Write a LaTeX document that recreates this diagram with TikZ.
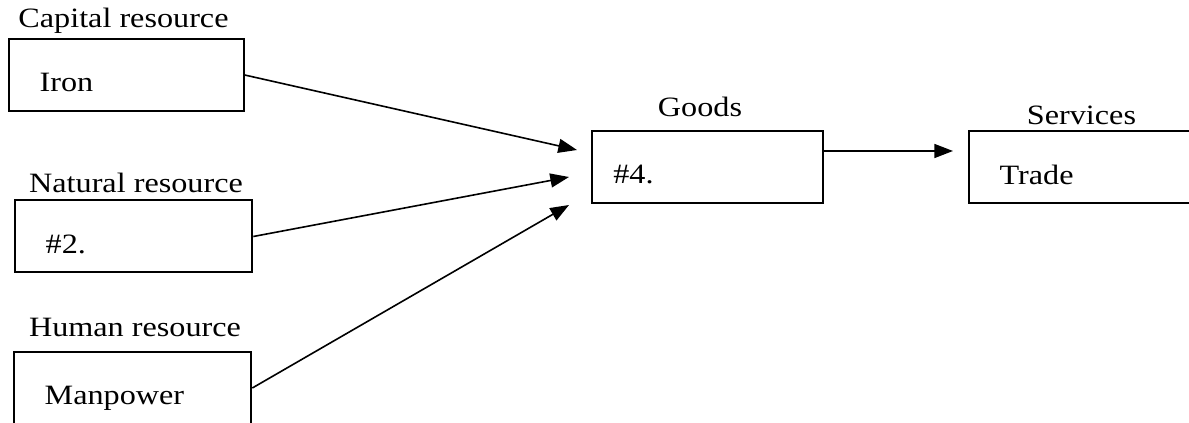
\documentclass[tikz,border=0pt]{standalone}
\usepackage{fontspec}
\setmainfont{Liberation Serif}[FakeStretch=1.15]
\usetikzlibrary{arrows.meta}
\tikzstyle{resbox}=[draw, line width=1.5pt, minimum height=54pt, inner xsep=23pt,
    text height=27pt, text depth=1.5pt, anchor=west, align=left]
\tikzstyle{heading}=[anchor=base, inner sep=0pt]
\newcommand{\resbox}{\node[resbox]}
\newcommand{\heading}{\node[heading]}

\begin{document}
\begin{tikzpicture}[x=0.75pt, y=-0.75pt
    ,font=\fontsize{21}{25}\selectfont
    ,every edge/.style={draw, line width=1.2pt,
        -{Triangle[length=14pt,width=10.5pt]}}
]
\clip (0,0) rectangle (1189,423);
\resbox[text width=130pt] (iron) at (8,75) {Iron};
\resbox[text width=132pt] (nat)  at (14,236.5) {\#2.};
\resbox[text width=132pt] (man)  at (13,388) {Manpower};
\resbox[text width=141pt, inner xsep=16pt] (goods) at (591,167) {\#4.};
\resbox[text width=130pt] (trade) at (968,167.5) {Trade};
\heading (capital)  at (123.5,28)  {Capital resource};
\heading (natural)  at (136,193)   {Natural resource};
\heading (human)    at (135,337)   {Human resource};
\heading (goodslbl) at (700,117)   {Goods};
\heading (servlbl)  at (1081.5,125) {Services};
\coordinate (in1) at (577,150);
\coordinate (in2) at (569,177);
\coordinate (in3) at (569,205);
\coordinate (out) at ([yshift=12pt]goods.east);
\coordinate (tradein) at (953,151);
\path
(iron.east) edge (in1)
(nat.east)  edge (in2)
(man.east)  edge (in3)
(out)       edge (tradein)
;
\end{tikzpicture}
\end{document}
